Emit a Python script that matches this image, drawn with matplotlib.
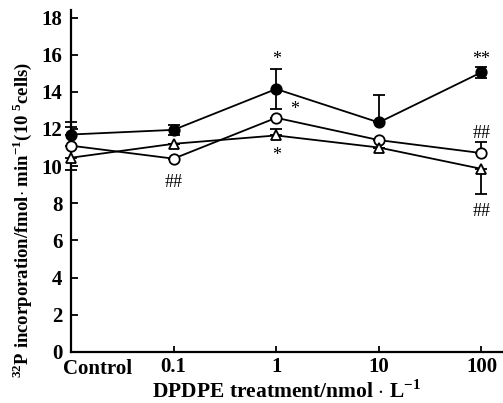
import matplotlib.pyplot as plt
import numpy as np

plt.rcParams['font.family'] = ['Liberation Serif', 'DejaVu Serif']
plt.rcParams['mathtext.fontset'] = 'custom'
plt.rcParams['mathtext.rm'] = 'Liberation Serif:bold'
plt.rcParams['mathtext.bf'] = 'Liberation Serif:bold'

# data
doses = ['Control', '0.1', '1', '10', '100']

filled = [11.7, 11.95, 14.15, 12.35, 15.05]
filled_lo = [0, 0.28, 1.1, 0, 0.3]
filled_hi = [0.7, 0.25, 1.1, 1.5, 0.3]

opened = [11.1, 10.4, 12.6, 11.4, 10.7]
opened_lo = [0, 0, 0, 0, 0]
opened_hi = [1.0, 0, 0, 0, 0.6]

tri = [10.45, 11.2, 11.65, 11.0, 9.85]
tri_lo = [0.65, 0, 0, 0, 1.35]
tri_hi = [0, 0, 0.35, 0, 0]

# significance marks: (x index, y, text)
marks = [(2, 15.75, '*'), (2.18, 13.05, '*'), (2, 10.55, '*'), (1, 9.1, '##'),
         (4, 15.75, '**'), (4, 11.75, '##'), (4, 7.55, '##')]

fig = plt.figure(figsize=(5.03, 4.03), dpi=100)
ax = fig.add_axes([0.141, 0.127, 0.857, 0.848])

x = np.arange(len(doses))
common = dict(color='black', lw=1.3, capsize=4, elinewidth=1.3, capthick=1.3,
              markersize=7.5, markeredgewidth=1.3, clip_on=False, zorder=3)

ax.errorbar(x, filled, yerr=[filled_lo, filled_hi], fmt='-o',
            markerfacecolor='black', **common)
ax.errorbar(x, opened, yerr=[opened_lo, opened_hi], fmt='-o',
            markerfacecolor='white', **common)
ax.errorbar(x, tri, yerr=[tri_lo, tri_hi], fmt='-^',
            markerfacecolor='white', **common)

for xi, yi, t in marks:
    ax.text(xi, yi, t, ha='center', va='center', fontsize=13)

ax.set_xlim(0, 4.2)
ax.set_ylim(0, 18.4)
ax.set_yticks(np.arange(0, 19, 2))
ax.set_xticks(x)
# Control label sits right of its tick in the original, draw it separately
ax.set_xticklabels([''] + doses[1:], fontweight='bold', fontsize=15)
ax.annotate(doses[0], xy=(0, 0), xycoords=('data', 'axes fraction'),
            xytext=(-6, -5), textcoords='offset points', ha='left', va='top',
            fontweight='bold', fontsize=15)
for lab in ax.get_yticklabels():
    lab.set_fontweight('bold')
    lab.set_fontsize(15)

ax.tick_params(axis='both', direction='in', length=5, width=1.3)
ax.tick_params(axis='y', pad=6)
ax.tick_params(axis='x', length=4, pad=4)
for s in ['top', 'right']:
    ax.spines[s].set_visible(False)
for s in ['left', 'bottom']:
    ax.spines[s].set_linewidth(1.6)

ax.set_xlabel(r'DPDPE treatment/nmol $\cdot$ L$^{-1}$', fontweight='bold',
              fontsize=15.5, labelpad=2)
ax.set_ylabel(r'$^{32}$P incorporation/fmol$\cdot$ min$^{-1}$(10$^{\ 5}$cells)',
              fontweight='bold', fontsize=13.5)
ax.yaxis.set_label_coords(-0.085, 0.385)

fig.savefig('out.png', dpi=100)
